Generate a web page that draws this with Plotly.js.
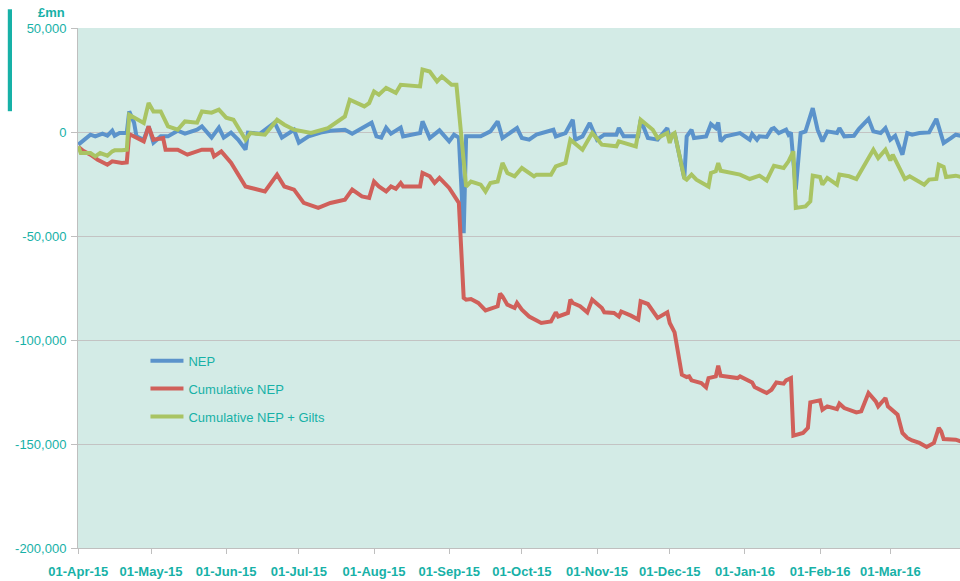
<!DOCTYPE html>
<html>
<head>
<meta charset="utf-8">
<script src="https://cdn.plot.ly/plotly-3.0.1.min.js"></script>
<style>html,body{margin:0;padding:0;background:#fff}#chart{width:960px;height:581px}</style>
</head>
<body>
<div id="chart"></div>
<script>
// ---- data ----
const nepDates = ["2015-04-01","2015-04-04","2015-04-06","2015-04-08","2015-04-11","2015-04-13","2015-04-15","2015-04-16","2015-04-18","2015-04-21","2015-04-22","2015-04-24","2015-04-25","2015-04-28","2015-04-30",
"2015-05-02","2015-05-05","2015-05-08","2015-05-12","2015-05-15","2015-05-20","2015-05-22","2015-05-26","2015-05-29","2015-05-31",
"2015-06-03","2015-06-06","2015-06-09","2015-06-10","2015-06-15","2015-06-21","2015-06-24","2015-06-29",
"2015-07-01","2015-07-05","2015-07-10","2015-07-14","2015-07-20","2015-07-23","2015-07-31",
"2015-08-02","2015-08-04","2015-08-06","2015-08-08","2015-08-12","2015-08-13","2015-08-20","2015-08-21","2015-08-24","2015-08-28",
"2015-09-01","2015-09-03","2015-09-05","2015-09-07","2015-09-08","2015-09-14","2015-09-18","2015-09-21","2015-09-23","2015-09-29",
"2015-10-01","2015-10-04","2015-10-07","2015-10-14","2015-10-15","2015-10-19","2015-10-22","2015-10-23","2015-10-26","2015-10-29",
"2015-11-01","2015-11-04","2015-11-09","2015-11-10","2015-11-12","2015-11-18","2015-11-19","2015-11-22","2015-11-26","2015-11-30",
"2015-12-01","2015-12-03","2015-12-07","2015-12-08","2015-12-10","2015-12-11","2015-12-16","2015-12-18","2015-12-20","2015-12-21","2015-12-22","2015-12-24","2015-12-30",
"2016-01-03","2016-01-04","2016-01-06","2016-01-07","2016-01-10","2016-01-12","2016-01-13","2016-01-15","2016-01-18","2016-01-19","2016-01-20","2016-01-22","2016-01-24","2016-01-26","2016-01-29","2016-01-31",
"2016-02-02","2016-02-04","2016-02-08","2016-02-09","2016-02-11","2016-02-15","2016-02-17","2016-02-21","2016-02-23","2016-02-26","2016-02-28",
"2016-03-01","2016-03-03","2016-03-06","2016-03-08","2016-03-10","2016-03-13","2016-03-16","2016-03-17","2016-03-20","2016-03-23","2016-03-26","2016-03-28","2016-03-30"];
const nepValues = [-6100,-2900,-1300,-2100,-800,-1800,600,-1800,-500,-500,9900,4500,-2100,-3700,2700,
-5100,-2100,-2100,600,-800,1100,2700,-2700,2100,-2700,
-300,-3700,-8500,-300,-800,4500,-2700,1100,
-5100,-2100,-300,600,1100,-800,4500,
-2100,-2700,2100,-800,2100,-2100,-500,5100,-2900,800,
-4500,-1300,-2700,-48600,-2100,-2100,300,5100,-2900,1900,
-2900,-3700,-1300,1100,-2100,-500,5900,-3700,-2100,4300,
-3700,-1300,-1300,1900,-2100,-2100,5900,-2900,-3700,1900,
-3700,-500,-22100,-2100,1100,-2900,-2100,3800,1900,4600,-4500,-2100,-500,
-3700,-1000,-3700,-2100,-2400,1400,1900,-500,1100,-1300,-200,-27700,-500,300,11500,1100,
-4500,300,-500,1900,-2100,-1800,1400,6300,300,-500,1900,
-3700,-1800,-10900,-500,-1300,-500,-200,-200,6300,-5300,-2900,-1300,-1800];

const cumDates = ["2015-04-01","2015-04-03","2015-04-06","2015-04-09","2015-04-13","2015-04-15","2015-04-19","2015-04-21","2015-04-22","2015-04-28","2015-04-30",
"2015-05-02","2015-05-06","2015-05-07","2015-05-12","2015-05-16","2015-05-22","2015-05-26","2015-05-27","2015-05-30",
"2015-06-03","2015-06-09","2015-06-11","2015-06-17","2015-06-22","2015-06-25","2015-06-29",
"2015-07-03","2015-07-09","2015-07-14","2015-07-20","2015-07-23","2015-07-27","2015-07-30",
"2015-08-01","2015-08-03","2015-08-06","2015-08-08","2015-08-10","2015-08-12","2015-08-13","2015-08-20","2015-08-21","2015-08-24","2015-08-26","2015-08-28",
"2015-09-01","2015-09-03","2015-09-05","2015-09-07","2015-09-08","2015-09-10","2015-09-13","2015-09-16","2015-09-19","2015-09-21","2015-09-22","2015-09-23","2015-09-25","2015-09-28","2015-09-29",
"2015-10-01","2015-10-04","2015-10-09","2015-10-13","2015-10-15","2015-10-16","2015-10-20","2015-10-21","2015-10-22","2015-10-25","2015-10-28","2015-10-30",
"2015-11-01","2015-11-03","2015-11-04","2015-11-08","2015-11-10","2015-11-11","2015-11-15","2015-11-18","2015-11-19","2015-11-22","2015-11-26","2015-11-30",
"2015-12-01","2015-12-03","2015-12-06","2015-12-08","2015-12-09","2015-12-10","2015-12-14","2015-12-16","2015-12-17","2015-12-20","2015-12-21","2015-12-22","2015-12-29","2015-12-30",
"2016-01-04","2016-01-05","2016-01-10","2016-01-12","2016-01-14","2016-01-17","2016-01-18","2016-01-20","2016-01-21","2016-01-25","2016-01-27","2016-01-28",
"2016-02-01","2016-02-02","2016-02-04","2016-02-08","2016-02-09","2016-02-11","2016-02-16","2016-02-18","2016-02-21","2016-02-24","2016-02-25","2016-02-28","2016-02-29",
"2016-03-04","2016-03-06","2016-03-08","2016-03-10","2016-03-13","2016-03-16","2016-03-19","2016-03-21","2016-03-22","2016-03-23","2016-03-28","2016-03-30"];
const cumValues = [-7100,-9000,-10900,-13300,-15700,-14100,-14900,-14600,-1000,-4500,2700,
-3700,-2900,-8500,-8500,-10900,-8500,-8500,-11700,-9300,
-14800,-26200,-26800,-28600,-20500,-26200,-27700,
-34100,-36500,-34100,-32500,-27700,-31000,-31700,
-23800,-26200,-28600,-26200,-27300,-24500,-26200,-26200,-19700,-21300,-24500,-22100,
-26900,-30100,-34100,-79800,-80600,-80300,-82200,-85800,-84600,-83800,-77700,-79000,-83000,-84600,-82200,
-85400,-88700,-91800,-91100,-86700,-88700,-87000,-80600,-82200,-83800,-86700,-80600,
-82700,-84600,-86700,-87000,-88700,-86300,-88300,-90200,-81400,-82700,-89400,-86700,
-91800,-96300,-116700,-117800,-117500,-119400,-120700,-122800,-118300,-117500,-112400,-117200,-118300,-117500,
-120400,-122600,-125500,-123900,-120400,-121000,-119400,-118300,-146000,-144700,-142300,-130000,
-129000,-133500,-131900,-133200,-130600,-132700,-134800,-134300,-125500,-129500,-131900,-127900,-131900,
-135900,-144700,-147100,-148300,-149500,-151400,-149500,-142300,-143900,-147600,-147900,-148700];

const giltDates = ["2015-04-01","2015-04-02","2015-04-06","2015-04-08","2015-04-10","2015-04-13","2015-04-15","2015-04-16","2015-04-19","2015-04-21","2015-04-22","2015-04-28","2015-04-30",
"2015-05-02","2015-05-05","2015-05-08","2015-05-12","2015-05-15","2015-05-20","2015-05-22","2015-05-26","2015-05-29",
"2015-06-01","2015-06-04","2015-06-09","2015-06-11","2015-06-17","2015-06-22","2015-06-25","2015-06-29",
"2015-07-06","2015-07-13","2015-07-20","2015-07-22","2015-07-28","2015-07-30",
"2015-08-01","2015-08-03","2015-08-06","2015-08-10","2015-08-12","2015-08-20","2015-08-21","2015-08-24","2015-08-27","2015-08-29",
"2015-09-02","2015-09-04","2015-09-08","2015-09-10","2015-09-14","2015-09-16","2015-09-18","2015-09-21","2015-09-23","2015-09-25","2015-09-28",
"2015-10-01","2015-10-06","2015-10-07","2015-10-13","2015-10-15","2015-10-19","2015-10-21","2015-10-26","2015-10-30",
"2015-11-03","2015-11-09","2015-11-10","2015-11-17","2015-11-19","2015-11-24","2015-11-26","2015-11-30",
"2015-12-01","2015-12-02","2015-12-03","2015-12-07","2015-12-08","2015-12-10","2015-12-12","2015-12-17","2015-12-18","2015-12-20","2015-12-21","2015-12-22","2015-12-30",
"2016-01-03","2016-01-07","2016-01-10","2016-01-13","2016-01-17","2016-01-19","2016-01-21","2016-01-22","2016-01-26","2016-01-28","2016-01-29",
"2016-02-01","2016-02-02","2016-02-04","2016-02-08","2016-02-09","2016-02-13","2016-02-16","2016-02-22","2016-02-23","2016-02-25","2016-02-28",
"2016-03-01","2016-03-02","2016-03-07","2016-03-09","2016-03-15","2016-03-17","2016-03-20","2016-03-21","2016-03-23","2016-03-24","2016-03-28","2016-03-30"];
const giltValues = [-6900,-10100,-10100,-11700,-10100,-11400,-9300,-8800,-8800,-8500,8300,4300,13900,
9900,9900,2700,1100,5100,4500,9900,9300,10700,
6900,5900,-3700,-500,-1300,5900,3500,1100,
-500,1900,7500,15500,12300,13900,
19500,17900,21200,18800,22700,21900,30000,29100,24300,26700,
22700,22700,-26200,-23800,-25300,-28600,-24500,-23800,-14900,-19700,-21300,
-17300,-21300,-20500,-20500,-16500,-14900,-3700,-8500,-500,
-6100,-6900,-4500,-6900,5900,1100,-2900,-500,
-5300,-1300,-500,-22100,-22900,-20500,-22900,-26200,-19700,-18900,-14900,-18600,-20500,
-22600,-21000,-23300,-16200,-17300,-14100,-9300,-36500,-35800,-33400,-21000,
-21600,-25300,-22100,-25300,-20500,-21300,-22600,-10100,-8500,-12500,-8500,
-13700,-10900,-22600,-21300,-25300,-22900,-22600,-15700,-16800,-21600,-21000,-21600];

const seriesNames = ["NEP", "Cumulative NEP", "Cumulative NEP + Gilts"];
const xTickDates = ["2015-04-01","2015-05-01","2015-06-01","2015-07-01","2015-08-01","2015-09-01","2015-10-01","2015-11-01","2015-12-01","2016-01-01","2016-02-01","2016-03-01"];
const xTickLabels = ["01-Apr-15","01-May-15","01-Jun-15","01-Jul-15","01-Aug-15","01-Sep-15","01-Oct-15","01-Nov-15","01-Dec-15","01-Jan-16","01-Feb-16","01-Mar-16"];
const yTickValues = [-200000,-150000,-100000,-50000,0,50000];
const yTickLabels = ["-200,000","-150,000","-100,000","-50,000","0","50,000"];
const unitLabel = "£mn";

// ---- styling ----
const TEAL = "#17b1a7";
const FONT = "Liberation Sans, Arial, sans-serif";
const colors = ["#5b93cb", "#d0605a", "#a9c463"];
const xs = [nepDates, cumDates, giltDates];
const ys = [nepValues, cumValues, giltValues];

const traces = seriesNames.map((n, i) => ({
  type: "scatter", mode: "lines", name: n, x: xs[i], y: ys[i],
  line: {color: colors[i], width: 4},
  legendgroup: "g" + i,
  hoverinfo: "x+y"
}));

const layout = {
  width: 960, height: 581,
  margin: {l: 78, r: 0, t: 28, b: 33, pad: 0},
  paper_bgcolor: "#ffffff",
  plot_bgcolor: "#d3ebe6",
  font: {family: FONT, color: TEAL, size: 13},
  showlegend: true,
  legend: {
    x: 0.0765, y: 0.389, xanchor: "left", yanchor: "top",
    bgcolor: "rgba(0,0,0,0)", borderwidth: 0,
    font: {family: FONT, size: 13, color: TEAL},
    traceorder: "grouped", tracegroupgap: 8, itemwidth: 33
  },
  xaxis: {
    type: "date",
    range: ["2015-03-31 21:00", "2016-03-29 18:00"],
    tickmode: "array", tickvals: xTickDates, ticktext: xTickLabels,
    tickfont: {family: FONT, size: 13, color: TEAL, weight: "bold"},
    ticklabelstandoff: 6,
    showgrid: false, zeroline: false,
    showline: true, linecolor: "#bfbfbf", linewidth: 1,
    ticks: "outside", ticklen: 5, tickcolor: "#bfbfbf", tickwidth: 1
  },
  yaxis: {
    range: [-200000, 50000],
    tickmode: "array", tickvals: yTickValues, ticktext: yTickLabels,
    tickfont: {family: FONT, size: 13, color: TEAL},
    ticklabelstandoff: 2,
    showgrid: true, gridcolor: "#c3c3c3", gridwidth: 1, zeroline: false,
    showline: true, linecolor: "#bfbfbf", linewidth: 1,
    ticks: "outside", ticklen: 6, tickcolor: "#bfbfbf", tickwidth: 1
  },
  annotations: [{
    text: "<b>" + unitLabel + "</b>", xref: "paper", yref: "paper",
    x: -0.0125, y: 1.029, xanchor: "right", yanchor: "middle",
    showarrow: false, font: {family: FONT, size: 13, color: TEAL}
  }],
  shapes: [{
    type: "rect", xref: "paper", yref: "paper",
    x0: -0.0796, x1: -0.0748, y0: 0.84, y1: 1.036,
    fillcolor: TEAL, line: {width: 0}
  }]
};

Plotly.newPlot("chart", traces, layout, {displayModeBar: false, staticPlot: true});
</script>
</body>
</html>
